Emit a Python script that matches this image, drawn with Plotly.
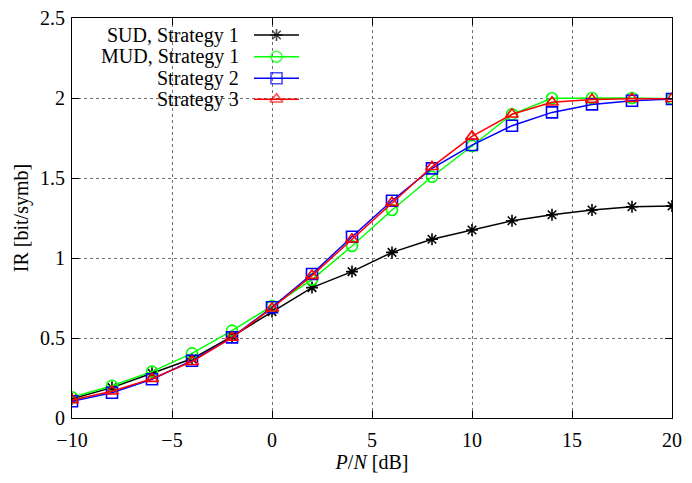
import plotly.graph_objects as go

# ---- data ----
pn_db = [-10, -8, -6, -4, -2, 0, 2, 4, 6, 8, 10, 12, 14, 16, 18, 20]
sud_s1 = [0.12, 0.19, 0.28, 0.37, 0.51, 0.665, 0.815, 0.915, 1.035, 1.117, 1.175, 1.233, 1.27, 1.30, 1.32, 1.325]
mud_s1 = [0.129, 0.202, 0.29, 0.404, 0.546, 0.70, 0.865, 1.075, 1.30, 1.508, 1.70, 1.898, 1.998, 2.0, 2.0, 1.995]
strat2 = [0.105, 0.158, 0.242, 0.358, 0.504, 0.692, 0.90, 1.133, 1.358, 1.56, 1.706, 1.827, 1.91, 1.96, 1.983, 1.994]
strat3 = [0.113, 0.167, 0.246, 0.352, 0.503, 0.686, 0.89, 1.117, 1.346, 1.57, 1.76, 1.898, 1.973, 1.99, 1.995, 1.995]

series_names = ["SUD, Strategy 1", "MUD, Strategy 1", "Strategy 2", "Strategy 3"]
series_vals = [sud_s1, mud_s1, strat2, strat3]
colors = ["#000000", "#00ff00", "#0000ff", "#ff0000"]
symbols = ["asterisk-open", "circle-open", "square-open", "triangle-up-open"]

x_ticks = [-10, -5, 0, 5, 10, 15, 20]
x_ticklabels = ["\u221210", "\u22125", "0", "5", "10", "15", "20"]
y_ticks = [0, 0.5, 1, 1.5, 2, 2.5]
y_ticklabels = ["0", "0.5", "1", "1.5", "2", "2.5"]

FONT = "Liberation Serif"
W, H = 692, 483
L, R, T, B = 72, 20, 18, 65

fig = go.Figure()

for name, vals, c, s in zip(series_names, series_vals, colors, symbols):
    fig.add_trace(go.Scatter(
        x=pn_db, y=vals, name=name, mode="lines+markers",
        line=dict(color=c, width=1.5),
        marker=dict(symbol=s, size=11 if s != "asterisk-open" else 10,
                    color=c, line=dict(color=c, width=1.6)),
        showlegend=False,
    ))

# custom legend (text right, sample on the right), on an overlay 0..1 axis
pw = W - L - R
ph = H - T - B
def px2x(px):
    return (px - L) / pw
def py2y(py):
    return (H - B - py) / ph

row_py = [35, 56.7, 78.3, 99.3]
for name, c, s, py in zip(series_names, colors, symbols, row_py):
    yv = py2y(py)
    fig.add_trace(go.Scatter(
        x=[px2x(254), px2x(276.5), px2x(299)], y=[yv, yv, yv],
        xaxis="x2", yaxis="y2", mode="lines+markers",
        line=dict(color=c, width=1.5),
        marker=dict(symbol=s, size=[0, 11 if s != "asterisk-open" else 10, 0],
                    color=c, line=dict(color=c, width=1.6)),
        showlegend=False, hoverinfo="skip",
    ))
    fig.add_annotation(
        x=px2x(241), y=yv, xref="x2", yref="y2", text=name, showarrow=False,
        xanchor="right", yanchor="middle",
        font=dict(family=FONT, size=20, color="#000000"),
    )

# opaque legend box over grid
fig.add_shape(type="rect", xref="paper", yref="paper",
              x0=px2x(96), x1=px2x(310), y0=py2y(110), y1=1.0,
              fillcolor="white", line=dict(width=0), layer="between")

axis_common = dict(
    showline=True, linecolor="black", linewidth=1.2, mirror="ticks",
    ticks="inside", ticklen=7, tickwidth=1, tickcolor="black",
    showgrid=True, gridcolor="#707070", griddash="dot", gridwidth=1,
    zeroline=False, automargin=False,
    tickfont=dict(family=FONT, size=20, color="black"),
)

fig.update_layout(
    width=W, height=H,
    margin=dict(l=L, r=R, t=T, b=B),
    paper_bgcolor="white", plot_bgcolor="white",
    font=dict(family=FONT, size=20, color="black"),
    xaxis=dict(range=[-10, 20], tickvals=x_ticks, ticktext=x_ticklabels,
               ticklabelstandoff=4,
               title=dict(text="<i>P</i>/<i>N</i> [dB]", standoff=4,
                          font=dict(family=FONT, size=20)),
               **axis_common),
    yaxis=dict(range=[0, 2.5], tickvals=y_ticks, ticktext=y_ticklabels,
               ticklabelstandoff=2,
               title=dict(text="IR [bit/symb]", standoff=5,
                          font=dict(family=FONT, size=20)),
               **axis_common),
    xaxis2=dict(overlaying="x", range=[0, 1], visible=False, fixedrange=True),
    yaxis2=dict(overlaying="y", range=[0, 1], visible=False, fixedrange=True),
    showlegend=False,
)

fig.write_html("out.html", config={"displayModeBar": False},
               post_script="document.body.style.margin='0';document.body.style.padding='0';")
